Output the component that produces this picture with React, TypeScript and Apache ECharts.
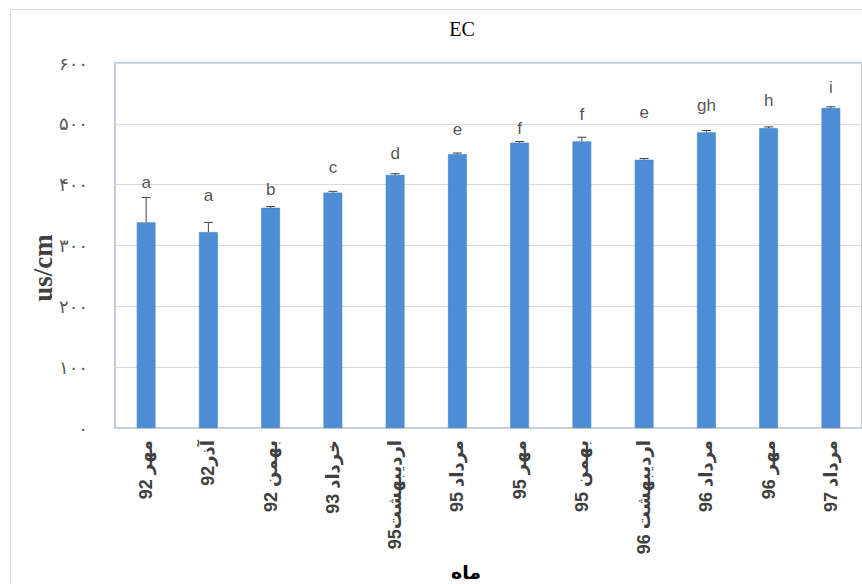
import React, { useEffect, useRef } from "react";
import * as echarts from "echarts";

// Months of sampling (Persian calendar)
const months = [
  "مهر 92",
  "آذر92",
  "بهمن 92",
  "خرداد 93",
  "اردیبهشت95",
  "مرداد 95",
  "مهر 95",
  "بهمن 95",
  "اردیبهشت 96",
  "مرداد 96",
  "مهر 96",
  "مرداد 97",
];

// Mean EC (us/cm) per month
const ecMean = [338, 322, 362, 387, 416, 450, 469, 471, 441, 486, 493, 526];

// Upper error (standard error) per month
const ecError = [41, 16, 2, 2, 2, 2, 2, 7, 2, 3, 2, 2];

// Significance group letters and the height (us/cm) each is written at
const groupLetters = ["a", "a", "b", "c", "d", "e", "f", "f", "e", "gh", "h", "i"];
const letterLevel = [403, 382, 392, 428, 451, 490, 492, 516, 518, 530, 539, 559];

const persianDigits = "۰۱۲۳۴۵۶۷۸۹";
const toPersian = (n: number) =>
  String(n).replace(/[0-9]/g, (d) => persianDigits[Number(d)]);

export default function App() {
  const ref = useRef<HTMLDivElement>(null);

  useEffect(() => {
    if (!ref.current) return;
    const chart = echarts.init(ref.current, null, { renderer: "svg" });

    const option: any = {
      animation: false,
      backgroundColor: "#ffffff",
      graphic: [
        {
          type: "rect",
          silent: true,
          shape: { x: 10.5, y: 9.5, width: 900, height: 620 },
          style: { fill: "none", stroke: "#d9d9d9", lineWidth: 1 },
          z: -10,
        },
        {
          type: "text",
          x: 462,
          y: 29,
          style: {
            text: "EC",
            font: '20px "Liberation Serif"',
            fill: "#000000",
            textAlign: "center",
            textVerticalAlign: "middle",
          },
        },
        {
          type: "text",
          x: 43,
          y: 268,
          rotation: Math.PI / 2,
          style: {
            text: "us/cm",
            font: 'bold 27px "Liberation Serif"',
            fill: "#404040",
            textAlign: "center",
            textVerticalAlign: "middle",
          },
        },
        {
          type: "text",
          x: 466,
          y: 572,
          style: {
            text: "ماه",
            font: 'bold 19px "DejaVu Sans"',
            fill: "#000000",
            textAlign: "center",
            textVerticalAlign: "middle",
          },
        },
      ],
      grid: {
        left: 115,
        top: 63,
        width: 752,
        height: 365,
        show: true,
        borderColor: "#a9bcd0",
        borderWidth: 1.5,
        backgroundColor: "transparent",
      },
      xAxis: {
        type: "category",
        data: months,
        axisLine: { lineStyle: { color: "#d0d0d0" } },
        axisTick: { show: false },
        axisLabel: {
          rotate: 90,
          interval: 0,
          margin: 12,
          color: "#404040",
          fontSize: 18,
          fontWeight: "bold",
          fontFamily: '"Liberation Sans", "DejaVu Sans", sans-serif',
        },
      },
      yAxis: {
        type: "value",
        min: 0,
        max: 600,
        interval: 100,
        axisLine: { show: false },
        axisTick: { show: false },
        splitLine: { lineStyle: { color: "#d9d9d9", width: 1 } },
        axisLabel: {
          margin: 27,
          color: "#595959",
          fontSize: 18,
          padding: [0, 0, 4, 0],
          fontFamily: '"DejaVu Sans", serif',
          formatter: (v: number) => toPersian(v),
        },
      },
      series: [
        {
          type: "bar",
          data: ecMean,
          barWidth: "30%",
          itemStyle: { color: "#4c8dd6", borderColor: "#3f7fc6", borderWidth: 0.6 },
          z: 2,
        },
        {
          type: "custom",
          data: ecMean.map((v, i) => [i, v, v + ecError[i]]),
          z: 3,
          renderItem: (params: any, api: any) => {
            const base = api.coord([api.value(0), api.value(1)]);
            const top = api.coord([api.value(0), api.value(2)]);
            const cap = 4.5;
            const style = { stroke: "#404040", lineWidth: 1 };
            return {
              type: "group",
              children: [
                {
                  type: "line",
                  shape: { x1: base[0], y1: base[1], x2: top[0], y2: top[1] },
                  style,
                },
                {
                  type: "line",
                  shape: { x1: top[0] - cap, y1: top[1], x2: top[0] + cap, y2: top[1] },
                  style,
                },
              ],
            };
          },
        },
        {
          type: "scatter",
          symbolSize: 0,
          data: letterLevel.map((v, i) => [i, v]),
          z: 4,
          label: {
            show: true,
            position: "inside",
            color: "#262626",
            fontSize: 17,
            fontFamily: '"Liberation Sans", sans-serif',
            formatter: (p: any) => groupLetters[p.dataIndex],
          },
        },
      ],
    };

    chart.setOption(option);
    return () => chart.dispose();
  }, []);

  return (
    <div
      ref={ref}
      style={{ position: "fixed", left: 0, top: 0, width: 862, height: 584 }}
    />
  );
}
